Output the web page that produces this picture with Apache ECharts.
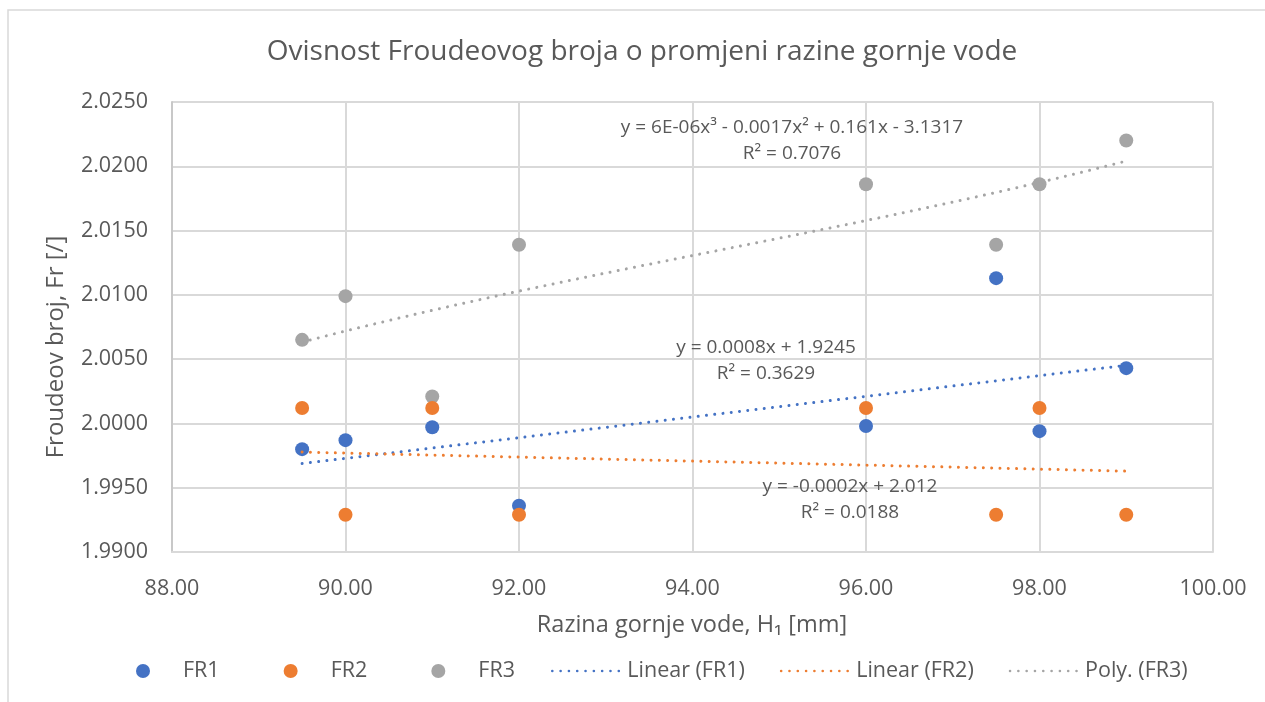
<!DOCTYPE html>
<html>
<head>
<meta charset="utf-8">
<script src="https://cdn.jsdelivr.net/npm/echarts@6/dist/echarts.min.js"></script>
<style>
  html, body { margin: 0; padding: 0; background: #fff; overflow: hidden; }
  #chart { width: 1265px; height: 702px; }
</style>
</head>
<body>
<div id="chart"></div>
<script>
// Upper water level H1 [mm] for each measurement
const levels = [89.5, 90, 91, 92, 96, 97.5, 98, 99];
// Froude numbers of the three runs
const fr1 = [1.9980, 1.9987, 1.9997, 1.9936, 1.9998, 2.0113, 1.9994, 2.0043];
const fr2 = [2.0012, 1.9929, 2.0012, 1.9929, 2.0012, 1.9929, 2.0012, 1.9929];
const fr3 = [2.0065, 2.0099, 2.0021, 2.0139, 2.0186, 2.0139, 2.0186, 2.0220];
const seriesNames = ['FR1', 'FR2', 'FR3'];
const trendNames = ['Linear (FR1)', 'Linear (FR2)', 'Poly. (FR3)'];
// axis ranges
const xMin = 88, xMax = 100, xStep = 2;
const yMin = 1.99, yMax = 2.025, yStep = 0.005;
// trendline equation captions
const eqFR1 = ['y = 0.0008x + 1.9245', 'R² = 0.3629'];
const eqFR2 = ['y = -0.0002x + 2.012', 'R² = 0.0188'];
const eqFR3 = ['y = 6E-06x³ - 0.0017x² + 0.161x - 3.1317', 'R² = 0.7076'];

const colors = ['#4472C4', '#ED7D31', '#A5A5A5'];
const textColor = '#595959';
const gridColor = '#D9D9D9';
const FONT = '"Open Sans", Lato, sans-serif';

// least-squares polynomial fit (x centred for numerical stability)
function polyFit(xs, ys, deg) {
  const mx = xs.reduce((a, b) => a + b, 0) / xs.length;
  const n = deg + 1;
  const A = Array.from({ length: n }, () => new Array(n + 1).fill(0));
  xs.forEach((x, k) => {
    const u = x - mx;
    for (let i = 0; i < n; i++) {
      for (let j = 0; j < n; j++) A[i][j] += Math.pow(u, i + j);
      A[i][n] += Math.pow(u, i) * ys[k];
    }
  });
  for (let c = 0; c < n; c++) {
    let p = c;
    for (let r = c + 1; r < n; r++) if (Math.abs(A[r][c]) > Math.abs(A[p][c])) p = r;
    [A[c], A[p]] = [A[p], A[c]];
    for (let r = 0; r < n; r++) {
      if (r === c) continue;
      const f = A[r][c] / A[c][c];
      for (let k = c; k <= n; k++) A[r][k] -= f * A[c][k];
    }
  }
  const coef = A.map((row, i) => row[n] / row[i]);
  return x => coef.reduce((s, a, i) => s + a * Math.pow(x - mx, i), 0);
}

function trendPoints(ys, deg, steps) {
  const f = polyFit(levels, ys, deg);
  const lo = Math.min(...levels), hi = Math.max(...levels);
  const pts = [];
  for (let i = 0; i <= steps; i++) {
    const x = lo + (hi - lo) * i / steps;
    pts.push([x, f(x)]);
  }
  return pts;
}

const pairs = ys => levels.map((x, i) => [x, ys[i]]);

const dotted = (color, w) => ({ color: color, width: w || 3, type: [0.01, 8.3], cap: 'round' });

const chart = echarts.init(document.getElementById('chart'), null, { renderer: 'canvas' });

function caption(lines, cx, cy) {
  return lines.map((t, i) => ({
    type: 'text', x: cx, y: cy + i * 25.5, z: 50,
    style: { text: t, fill: textColor, font: '19px ' + FONT, textAlign: 'center', textVerticalAlign: 'middle' }
  }));
}

const lineEntry = (name, color) => ({ name: name, lineStyle: dotted(color, 2.6), itemStyle: { opacity: 0 } });
const legendText = { color: textColor, fontSize: 21.5, fontFamily: FONT };

chart.setOption({
  animation: false,
  backgroundColor: '#fff',
  grid: { left: 172, right: 52, top: 102, bottom: 150, containLabel: false },
  xAxis: {
    type: 'value', min: xMin, max: xMax, interval: xStep,
    axisLine: { show: true, lineStyle: { color: gridColor, width: 2 } },
    axisTick: { show: false },
    splitLine: { show: true, lineStyle: { color: gridColor, width: 2 } },
    axisLabel: { color: textColor, fontSize: 21.5, fontFamily: FONT, margin: 26, formatter: v => v.toFixed(2) }
  },
  yAxis: {
    type: 'value', min: yMin, max: yMax, interval: yStep,
    axisLine: { show: true, lineStyle: { color: '#C8C8C8', width: 2 } },
    axisTick: { show: false },
    splitLine: { show: true, lineStyle: { color: gridColor, width: 2 } },
    axisLabel: { color: textColor, fontSize: 21.5, fontFamily: FONT, margin: 24, formatter: v => v.toFixed(4) }
  },
  legend: [
    {
      // measured runs
      left: 136, top: 660, padding: 0,
      itemWidth: 70, itemHeight: 14, itemGap: 64,
      textStyle: legendText,
      data: seriesNames.map(n => ({ name: n, icon: 'circle' }))
    },
    {
      // fitted trendlines
      left: 551, top: 660, padding: 0,
      itemWidth: 70, itemHeight: 14, itemGap: 35,
      textStyle: legendText,
      data: trendNames.map((n, i) => lineEntry(n, colors[i]))
    }
  ],
  graphic: [
    { type: 'rect', shape: { x: 8, y: 10, width: 1400, height: 900 }, style: { fill: 'none', stroke: gridColor, lineWidth: 1.5 }, z: -1 },
    { type: 'text', x: 642, y: 52, style: { text: 'Ovisnost Froudeovog broja o promjeni razine gornje vode', fill: textColor, font: '28px ' + FONT, textAlign: 'center', textVerticalAlign: 'middle' } },
    { type: 'text', x: 56, y: 347, rotation: Math.PI / 2, style: { text: 'Froudeov broj, Fr [/]', fill: textColor, font: '24px ' + FONT, textAlign: 'center', textVerticalAlign: 'middle' } },
    { type: 'text', x: 692, y: 625, style: { text: 'Razina gornje vode, H₁ [mm]', fill: textColor, font: '23.5px ' + FONT, textAlign: 'center', textVerticalAlign: 'middle' } },
    ...caption(eqFR3, 792, 128),
    ...caption(eqFR1, 766, 348),
    ...caption(eqFR2, 850, 487)
  ],
  series: [
    { name: seriesNames[0], type: 'scatter', data: pairs(fr1), symbolSize: 14, itemStyle: { color: colors[0], opacity: 1 }, z: 2 },
    { name: seriesNames[1], type: 'scatter', data: pairs(fr2), symbolSize: 14, itemStyle: { color: colors[1], opacity: 1 }, z: 4 },
    { name: seriesNames[2], type: 'scatter', data: pairs(fr3), symbolSize: 14, itemStyle: { color: colors[2], opacity: 1 }, z: 3 },
    { name: trendNames[0], type: 'line', data: trendPoints(fr1, 1, 1), symbol: 'none', lineStyle: dotted(colors[0]), itemStyle: { color: colors[0] }, z: 6 },
    { name: trendNames[1], type: 'line', data: trendPoints(fr2, 1, 1), symbol: 'none', lineStyle: dotted(colors[1]), itemStyle: { color: colors[1] }, z: 6 },
    { name: trendNames[2], type: 'line', data: trendPoints(fr3, 3, 80), symbol: 'none', lineStyle: dotted(colors[2]), itemStyle: { color: colors[2] }, z: 6 }
  ]
});
</script>
</body>
</html>
